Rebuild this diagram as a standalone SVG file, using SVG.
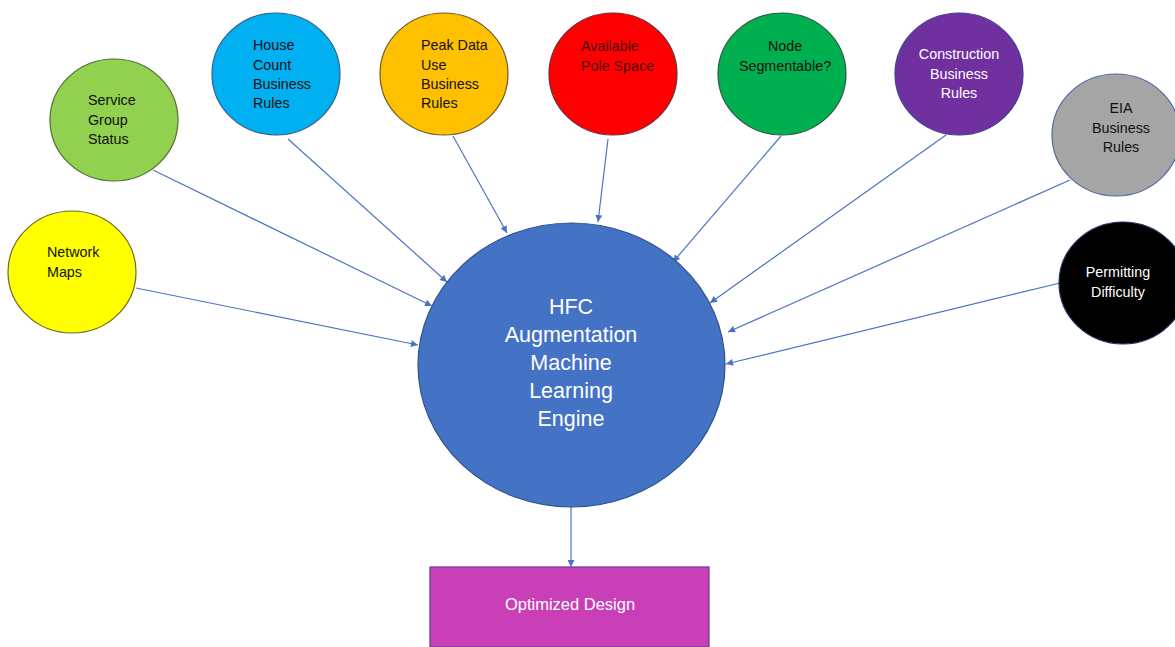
<svg xmlns="http://www.w3.org/2000/svg" width="1175" height="647" viewBox="0 0 1175 647">
<style>
.n{stroke-width:1.2}
.t{font-family:"Liberation Sans",Arial,sans-serif;font-size:14.3px;fill:#111}
.c{text-anchor:middle}
.w{fill:#fff}
.big{font-family:"Liberation Sans",Arial,sans-serif;font-size:21.5px;fill:#fff;text-anchor:middle}
.con line{stroke:#4a74c2;stroke-width:1.2;marker-end:url(#ah)}
</style>
<defs>
<marker id="ah" viewBox="0 0 10 10" refX="10" refY="5" markerWidth="8" markerHeight="7" markerUnits="userSpaceOnUse" orient="auto">
<path d="M0,0 L10,5 L0,10 z" fill="#4a74c2"/>
</marker>
</defs>
<rect width="1175" height="647" fill="#fff"/>
<g class="con">
<line x1="136" y1="288" x2="418" y2="345"/>
<line x1="153" y1="170" x2="432" y2="306"/>
<line x1="288" y1="139" x2="447" y2="282"/>
<line x1="453" y1="136" x2="507" y2="233"/>
<line x1="608" y1="139" x2="598" y2="222"/>
<line x1="781" y1="136" x2="673" y2="262"/>
<line x1="946" y1="135" x2="710" y2="303"/>
<line x1="1070" y1="180" x2="728" y2="332"/>
<line x1="1060" y1="283" x2="726" y2="364"/>
<line x1="571" y1="507" x2="571" y2="567"/>
</g>
<g id="network-maps"><ellipse class="n" cx="72" cy="272" rx="64" ry="61" fill="#ffff00" stroke="#6b6b2a"/><text class="t" x="47" y="257">Network</text><text class="t" x="47" y="277">Maps</text></g>
<g id="service-group"><ellipse class="n" cx="114" cy="120" rx="64" ry="61" fill="#92d050" stroke="#4e6e35"/><text class="t" x="88" y="105">Service</text><text class="t" x="88" y="125">Group</text><text class="t" x="88" y="144">Status</text></g>
<g id="house-count"><ellipse class="n" cx="276" cy="74" rx="64" ry="61" fill="#00b0f0" stroke="#2f5f8f"/><text class="t" x="253" y="50">House</text><text class="t" x="253" y="70">Count</text><text class="t" x="253" y="89">Business</text><text class="t" x="253" y="108">Rules</text></g>
<g id="peak-data"><ellipse class="n" cx="444" cy="74" rx="64" ry="61" fill="#ffc000" stroke="#6e5a2a"/><text class="t" x="421" y="50">Peak Data</text><text class="t" x="421" y="70">Use</text><text class="t" x="421" y="89">Business</text><text class="t" x="421" y="108">Rules</text></g>
<g id="pole-space"><ellipse class="n" cx="613" cy="74" rx="64" ry="61" fill="#ff0000" stroke="#6e2a3a"/><text class="t" x="581" y="51" style="fill:#4a0a0a">Available</text><text class="t" x="581" y="71" style="fill:#4a0a0a">Pole Space</text></g>
<g id="node-segmentable"><ellipse class="n" cx="782" cy="74" rx="64" ry="61" fill="#00b050" stroke="#2a5a3a"/><text class="t c" x="785" y="51">Node</text><text class="t c" x="785" y="71">Segmentable?</text></g>
<g id="construction"><ellipse class="n" cx="959" cy="74" rx="64" ry="61" fill="#7030a0" stroke="#3d3f8f"/><text class="t c w" x="959" y="59">Construction</text><text class="t c w" x="959" y="79">Business</text><text class="t c w" x="959" y="98">Rules</text></g>
<g id="eia"><ellipse class="n" cx="1116" cy="135" rx="64" ry="61" fill="#a5a5a5" stroke="#5068a0"/><text class="t c" x="1121" y="113">EIA</text><text class="t c" x="1121" y="133">Business</text><text class="t c" x="1121" y="152">Rules</text></g>
<g id="permitting"><ellipse class="n" cx="1123" cy="283" rx="64" ry="61" fill="#000" stroke="#1f2f5f"/><text class="t c w" x="1118" y="277">Permitting</text><text class="t c w" x="1118" y="297">Difficulty</text></g>
<g id="engine"><ellipse cx="571.5" cy="365" rx="153.5" ry="142" fill="#4472c4" stroke="#2f528f" stroke-width="1.2"/><text class="big" x="571" y="314">HFC</text><text class="big" x="571" y="342">Augmentation</text><text class="big" x="571" y="370">Machine</text><text class="big" x="571" y="398">Learning</text><text class="big" x="571" y="426">Engine</text></g>
<g id="optimized-design"><rect x="430" y="567" width="279" height="80" fill="#c83fb8" stroke="#6a3a8a" stroke-width="1.2"/><text x="570" y="610" font-family="Liberation Sans, Arial, sans-serif" font-size="16.5" fill="#fff" text-anchor="middle">Optimized Design</text></g>
</svg>
